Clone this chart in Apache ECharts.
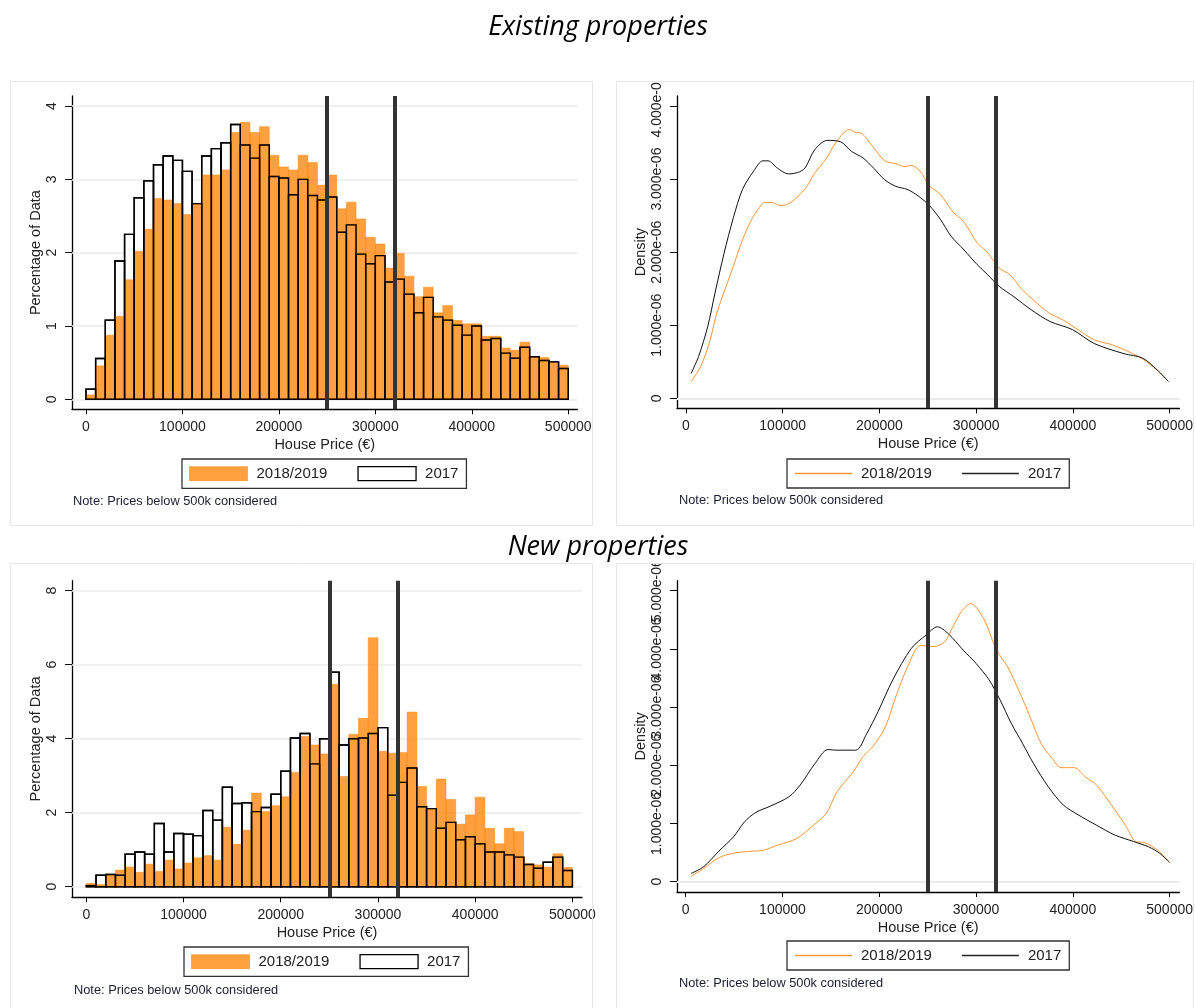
<!DOCTYPE html>
<html>
<head>
<meta charset="utf-8">
<script src="https://cdn.jsdelivr.net/npm/echarts@6/dist/echarts.min.js"></script>
<style>
html,body{margin:0;padding:0;background:#fff;}
#chart{width:1196px;height:1008px;}
</style>
</head>
<body>
<div id="chart"></div>
<script>
// ---------------- DATA ----------------
const binWidth = 10000;
const binLefts = [0,10000,20000,30000,40000,50000,60000,70000,80000,90000,
  100000,110000,120000,130000,140000,150000,160000,170000,180000,190000,
  200000,210000,220000,230000,240000,250000,260000,270000,280000,290000,
  300000,310000,320000,330000,340000,350000,360000,370000,380000,390000,
  400000,410000,420000,430000,440000,450000,460000,470000,480000,490000];

// Existing properties, percentage of data per bin
const existing2018 = [0.06,0.456,0.875,1.13,1.63,2.02,2.32,2.74,2.72,2.67,
  2.52,2.67,3.06,3.06,3.13,3.64,3.78,3.64,3.72,3.33,
  3.17,3.13,3.33,3.23,2.92,3.06,2.60,2.69,2.46,2.21,
  2.12,1.79,1.99,1.68,1.40,1.53,1.18,1.28,1.075,1.03,
  1.03,0.86,0.86,0.70,0.67,0.78,0.57,0.57,0.50,0.465];
const existing2017 = [0.137,0.556,1.08,1.886,2.25,2.75,2.98,3.20,3.32,3.26,
  3.11,2.67,3.32,3.42,3.50,3.75,3.47,3.29,3.47,3.04,
  3.02,2.79,3.00,2.78,2.72,2.76,2.28,2.38,1.98,1.85,
  1.96,1.60,1.64,1.435,1.18,1.39,1.125,1.08,1.01,0.875,
  1.00,0.81,0.83,0.63,0.56,0.71,0.58,0.53,0.51,0.42];

// New properties, percentage of data per bin
const new2018 = [0.09,0.06,0.32,0.45,0.53,0.39,0.61,0.41,0.72,0.48,
  0.64,0.78,0.84,0.72,1.61,1.15,1.53,2.53,2.03,2.19,
  2.43,3.09,4.06,3.83,3.59,5.47,2.98,4.12,4.55,6.73,
  3.66,3.61,3.63,4.72,2.71,2.11,2.91,2.36,1.69,1.94,
  2.42,1.58,1.16,1.58,1.49,0.62,0.59,0.53,0.89,0.52];
const new2017 = [0.03,0.31,0.33,0.31,0.88,0.94,0.88,1.71,0.94,1.44,
  1.42,1.38,2.06,1.80,2.69,2.25,2.27,2.03,2.14,2.50,
  3.12,4.02,4.14,3.32,4.00,5.80,3.83,4.00,4.02,4.14,
  4.30,2.47,2.82,3.21,2.16,2.11,1.58,1.74,1.27,1.35,
  1.16,0.94,0.94,0.86,0.80,0.60,0.50,0.66,0.80,0.44];

// Kernel densities [price, density]
const densExisting2018 = [[5300,0.23e-6],[15000,0.43e-6],[24000,0.75e-6],[32000,1.17e-6],[41500,1.53e-6],[49000,1.81e-6],[58500,2.17e-6],[68000,2.45e-6],[76000,2.61e-6],[81500,2.68e-6],[89000,2.68e-6],[96500,2.64e-6],[104000,2.65e-6],[114000,2.74e-6],[125000,2.90e-6],[133000,3.08e-6],[144500,3.27e-6],[156000,3.52e-6],[169000,3.68e-6],[175000,3.64e-6],[181000,3.63e-6],[194000,3.43e-6],[205500,3.25e-6],[217000,3.21e-6],[226500,3.17e-6],[232500,3.19e-6],[242000,3.11e-6],[251500,2.91e-6],[263000,2.79e-6],[276000,2.55e-6],[287000,2.42e-6],[301000,2.13e-6],[312000,1.99e-6],[324000,1.78e-6],[335000,1.69e-6],[346000,1.51e-6],[357000,1.37e-6],[375000,1.17e-6],[390000,1.07e-6],[403000,0.96e-6],[422000,0.80e-6],[441000,0.73e-6],[468000,0.57e-6],[483000,0.43e-6],[498800,0.23e-6]];
const densExisting2017 = [[5300,0.34e-6],[13000,0.57e-6],[22500,0.98e-6],[30000,1.44e-6],[39500,1.99e-6],[49000,2.47e-6],[58500,2.86e-6],[70000,3.11e-6],[79500,3.25e-6],[85000,3.25e-6],[94500,3.15e-6],[106000,3.07e-6],[115500,3.09e-6],[123000,3.15e-6],[133000,3.40e-6],[146000,3.53e-6],[160000,3.51e-6],[171000,3.38e-6],[183000,3.29e-6],[194000,3.15e-6],[205500,2.99e-6],[217000,2.90e-6],[228500,2.86e-6],[240000,2.77e-6],[251500,2.64e-6],[263000,2.45e-6],[274000,2.22e-6],[287500,2.03e-6],[301000,1.83e-6],[312000,1.69e-6],[324000,1.53e-6],[339000,1.39e-6],[357000,1.21e-6],[376500,1.05e-6],[399500,0.94e-6],[422000,0.75e-6],[453000,0.61e-6],[472000,0.55e-6],[487000,0.39e-6],[498800,0.23e-6]];
const densNew2018 = [[5400,0.09e-6],[18800,0.23e-6],[34000,0.41e-6],[49400,0.49e-6],[64700,0.52e-6],[80000,0.54e-6],[95300,0.63e-6],[114500,0.74e-6],[129800,0.94e-6],[145000,1.17e-6],[156600,1.55e-6],[171900,1.86e-6],[183400,2.15e-6],[194800,2.35e-6],[206300,2.66e-6],[217800,3.21e-6],[229300,3.69e-6],[242700,4.06e-6],[256000,4.04e-6],[267600,4.12e-6],[275200,4.35e-6],[284800,4.64e-6],[294400,4.78e-6],[307800,4.52e-6],[321200,3.98e-6],[332700,3.69e-6],[344100,3.29e-6],[355600,2.84e-6],[367100,2.38e-6],[378600,2.12e-6],[388100,1.96e-6],[401500,1.96e-6],[413000,1.80e-6],[424500,1.66e-6],[439800,1.32e-6],[455100,0.95e-6],[464700,0.69e-6],[474300,0.67e-6],[487700,0.54e-6],[500000,0.33e-6]];
const densNew2017 = [[5400,0.14e-6],[18800,0.26e-6],[34000,0.52e-6],[49400,0.77e-6],[60900,1.03e-6],[72400,1.19e-6],[87700,1.30e-6],[106800,1.46e-6],[118300,1.66e-6],[133600,2.03e-6],[147000,2.27e-6],[156600,2.26e-6],[175700,2.26e-6],[187200,2.55e-6],[198700,2.92e-6],[214000,3.47e-6],[233200,4.01e-6],[248500,4.24e-6],[260000,4.38e-6],[271400,4.26e-6],[286700,3.98e-6],[300000,3.75e-6],[313400,3.47e-6],[324900,3.12e-6],[336400,2.72e-6],[347900,2.38e-6],[359400,2.03e-6],[374700,1.63e-6],[390000,1.32e-6],[405400,1.15e-6],[424500,0.97e-6],[443600,0.80e-6],[462800,0.69e-6],[478100,0.60e-6],[489600,0.49e-6],[500000,0.33e-6]];

const cutoffs = [250000, 320000];

const xTicks = [0,100000,200000,300000,400000,500000];
const xTickLabels = ['0','100000','200000','300000','400000','500000'];
const yTicksExisting = [0,1,2,3,4];
const yTickLabelsExisting = ['0','1','2','3','4'];
const yTicksNew = [0,2,4,6,8];
const yTickLabelsNew = ['0','2','4','6','8'];
const yTicksDensExisting = [0,1e-6,2e-6,3e-6,4e-6];
const yTickLabelsDensExisting = ['0','1.000e-06','2.000e-06','3.000e-06','4.000e-06'];
const yTicksDensNew = [0,1e-6,2e-6,3e-6,4e-6,5e-6];
const yTickLabelsDensNew = ['0','1.000e-06','2.000e-06','3.000e-06','4.000e-06','5.000e-06'];

const seriesNames = ['2018/2019','2017'];
const sectionTitles = ['Existing properties','New properties'];
const noteText = 'Note: Prices below 500k considered';

// ---------------- STYLE / LAYOUT ----------------
const FONT = '"Liberation Sans", Arial, sans-serif';
const TXT = '#222';
const ORANGE_FILL = 'rgba(255,128,0,0.75)';
const ORANGE_LINE = '#ff9633';

function lookup(ticks, labels){
  return function(v){
    for (let i=0;i<ticks.length;i++){ if (Math.abs(ticks[i]-v) <= Math.abs(ticks[1]-ticks[0])*1e-6) return labels[i]; }
    return '';
  };
}

const panels = [
  {grid:{left:72,top:96,width:505.5,height:313.3}, x:[-14514,509640], y:[-0.1364,4.138], yt:yTicksExisting, yl:yTickLabelsExisting, yname:'Percentage of Data', kind:'hist', a:existing2018, b:existing2017,
   legend:{left:182,top:459}, note:[73,501]},
  {grid:{left:677,top:96,width:505,height:312.3}, x:[-9250,510070], y:[-0.137e-6,4.137e-6], yt:yTicksDensExisting, yl:yTickLabelsDensExisting, yname:'Density', kind:'dens', a:densExisting2018, b:densExisting2017,
   legend:{left:787,top:459}, note:[679,500]},
  {grid:{left:72,top:580.7,width:510,height:316.6}, x:[-14709,509875], y:[-0.286,8.27], yt:yTicksNew, yl:yTickLabelsNew, yname:'Percentage of Data', kind:'hist', a:new2018, b:new2017,
   legend:{left:184,top:947}, note:[74,990]},
  {grid:{left:677,top:580.7,width:505.5,height:311.3}, x:[-8941,510000], y:[-0.177e-6,5.172e-6], yt:yTicksDensNew, yl:yTickLabelsDensNew, yname:'Density', kind:'dens', a:densNew2018, b:densNew2017,
   legend:{left:787,top:941}, note:[679,983], splitLabels:true}
];

const grid=[], xAxis=[], yAxis=[], series=[], legend=[];

function histData(vals){ return binLefts.map((x,i)=>[x, vals[i]]); }
function rectRenderer(style){
  return function(params, api){
    const x0 = api.value(0), h = api.value(1);
    const p0 = api.coord([x0, h]);
    const p1 = api.coord([x0 + binWidth, 0]);
    return {type:'rect', shape:{x:p0[0], y:p0[1], width:p1[0]-p0[0], height:p1[1]-p0[1]}, style:style};
  };
}
function gridLines(ticks){
  return {silent:true, symbol:'none', z:1, label:{show:false}, emphasis:{disabled:true},
    lineStyle:{color:'#ebebeb', width:1.5, type:'solid'}, data: ticks.map(v=>({yAxis:v}))};
}
function cutLines(){
  return {silent:true, symbol:'none', z:10, label:{show:false}, emphasis:{disabled:true},
    lineStyle:{color:'#333', width:4, type:'solid'}, data: cutoffs.map(v=>({xAxis:v}))};
}
const nameStyle = {fontSize:14.5, color:TXT, fontFamily:FONT};
function yLabelCfg(values, p){
  return {customValues:values, formatter:lookup(p.yt,p.yl), rotate:90, margin:13, fontSize:14, color:TXT, fontFamily:FONT,
    showMinLabel:true, showMaxLabel:true, hideOverlap:false};
}
const extraYAxes = [];

panels.forEach((p,i)=>{
  grid.push(p.grid);
  xAxis.push({gridIndex:i, type:'value', min:p.x[0], max:p.x[1],
    axisLine:{show:true, onZero:false, lineStyle:{color:'#000', width:1.3}},
    axisTick:{show:true, length:5, customValues:xTicks, lineStyle:{color:'#000', width:1}},
    axisLabel:{customValues:xTicks, formatter:lookup(xTicks,xTickLabels), margin:11, fontSize:14, color:TXT, fontFamily:FONT,
      showMinLabel:true, showMaxLabel:true, hideOverlap:false},
    splitLine:{show:false},
    name:'House Price (€)', nameLocation:'middle', nameGap:28, nameTextStyle:nameStyle});
  // Overlapping labels get dropped by ECharts; alternate them over two coincident axes so all are drawn
  const mainLabels = p.splitLabels ? p.yt.filter((v,k)=>k%2===0) : p.yt;
  yAxis.push({gridIndex:i, type:'value', min:p.y[0], max:p.y[1],
    axisLine:{show:true, onZero:false, lineStyle:{color:'#000', width:1.3}},
    axisTick:{show:true, length:7, customValues:p.yt, lineStyle:{color:'#000', width:1}},
    axisLabel:yLabelCfg(mainLabels, p),
    splitLine:{show:false},
    name:p.yname, nameLocation:'middle', nameGap:29, nameRotate:90, nameTextStyle:nameStyle});
  if (p.splitLabels){
    extraYAxes.push({gridIndex:i, type:'value', position:'left', min:p.y[0], max:p.y[1],
      axisLine:{show:false, onZero:false}, axisTick:{show:false}, splitLine:{show:false},
      axisLabel:yLabelCfg(p.yt.filter((v,k)=>k%2===1), p)});
  }
  const legendText = {fontSize:15, color:TXT, fontFamily:FONT, padding:[0,0,0,4]};
  if (p.kind==='hist'){
    series.push({type:'custom', name:seriesNames[1], xAxisIndex:i, yAxisIndex:i, z:2, silent:true,
      encode:{x:0,y:1}, data:histData(p.b), itemStyle:{color:'#fff'},
      renderItem:rectRenderer({fill:'#fff', stroke:'#000', lineWidth:1.4}), markLine:gridLines(p.yt)});
    series.push({type:'custom', name:seriesNames[0], xAxisIndex:i, yAxisIndex:i, z:3, silent:true,
      encode:{x:0,y:1}, data:histData(p.a), itemStyle:{color:ORANGE_FILL},
      renderItem:rectRenderer({fill:ORANGE_FILL, stroke:'rgba(255,128,0,0.45)', lineWidth:1})});
    series.push({type:'custom', name:'2017 outline', xAxisIndex:i, yAxisIndex:i, z:4, silent:true,
      encode:{x:0,y:1}, data:histData(p.b), itemStyle:{color:'#000'},
      renderItem:rectRenderer({fill:null, stroke:'#000', lineWidth:1.4}), markLine:cutLines()});
    legend.push({left:p.legend.left, top:p.legend.top, orient:'horizontal', itemWidth:58, itemHeight:14, itemGap:30,
      padding:[7,8,7,7], borderColor:'#333', borderWidth:1.3, selectedMode:false,
      textStyle:legendText,
      data:[{name:seriesNames[0], icon:'rect', itemStyle:{color:ORANGE_FILL, borderColor:'rgba(255,128,0,0.5)', borderWidth:1}},
            {name:seriesNames[1], icon:'rect', itemStyle:{color:'#fff', borderColor:'#000', borderWidth:1.3}}]});
  } else {
    series.push({type:'line', name:seriesNames[0], xAxisIndex:i, yAxisIndex:i, z:3, silent:true, symbol:'none', smooth:0.3,
      data:p.a, lineStyle:{color:ORANGE_LINE, width:1}, itemStyle:{color:ORANGE_LINE}, markLine:gridLines(p.yt)});
    series.push({type:'line', name:seriesNames[1], xAxisIndex:i, yAxisIndex:i, z:4, silent:true, symbol:'none', smooth:0.3,
      data:p.b, lineStyle:{color:'#111', width:1}, itemStyle:{color:'#111'}, markLine:cutLines()});
    legend.push({left:p.legend.left, top:p.legend.top, orient:'horizontal', itemWidth:57, itemHeight:1.5, itemGap:30,
      padding:[7,8,7,8], borderColor:'#333', borderWidth:1.3, selectedMode:false,
      textStyle:legendText,
      data:[{name:seriesNames[0], icon:'rect', itemStyle:{color:ORANGE_LINE, borderWidth:0}},
            {name:seriesNames[1], icon:'rect', itemStyle:{color:'#222', borderWidth:0}}]});
  }
});
extraYAxes.forEach(a=>yAxis.push(a));

const graphic = [
  // masks clipping overflowing density tick labels at the panel top
  {type:'rect', z:50, shape:{x:617, y:0, width:579, height:81}, style:{fill:'#fff'}},
  {type:'rect', z:50, shape:{x:617, y:527, width:579, height:36}, style:{fill:'#fff'}},
  // panel frames
  {type:'rect', z:60, shape:{x:10.5, y:81.5, width:582, height:444}, style:{fill:null, stroke:'#e6e6e6', lineWidth:1}},
  {type:'rect', z:60, shape:{x:616.5, y:81.5, width:577, height:444}, style:{fill:null, stroke:'#e6e6e6', lineWidth:1}},
  {type:'rect', z:60, shape:{x:10.5, y:563.5, width:582, height:460}, style:{fill:null, stroke:'#e6e6e6', lineWidth:1}},
  {type:'rect', z:60, shape:{x:616.5, y:563.5, width:577, height:460}, style:{fill:null, stroke:'#e6e6e6', lineWidth:1}},
  // section titles
  {type:'text', z:70, style:{text:sectionTitles[0], x:598, y:27, align:'center', verticalAlign:'middle', font:'italic 27px "Open Sans"', fill:'#000'}},
  {type:'text', z:70, style:{text:sectionTitles[1], x:598, y:547, align:'center', verticalAlign:'middle', font:'italic 27px "Open Sans"', fill:'#000'}}
];
panels.forEach(p=>{
  graphic.push({type:'text', z:70, style:{text:noteText, x:p.note[0], y:p.note[1], align:'left', verticalAlign:'middle', font:'12.8px "Liberation Sans", Arial, sans-serif', fill:'#1c1c36'}});
});

const chart = echarts.init(document.getElementById('chart'), null, {renderer:'canvas'});
chart.setOption({animation:false, backgroundColor:'#fff', grid, xAxis, yAxis, series, legend, graphic});
</script>
</body>
</html>
